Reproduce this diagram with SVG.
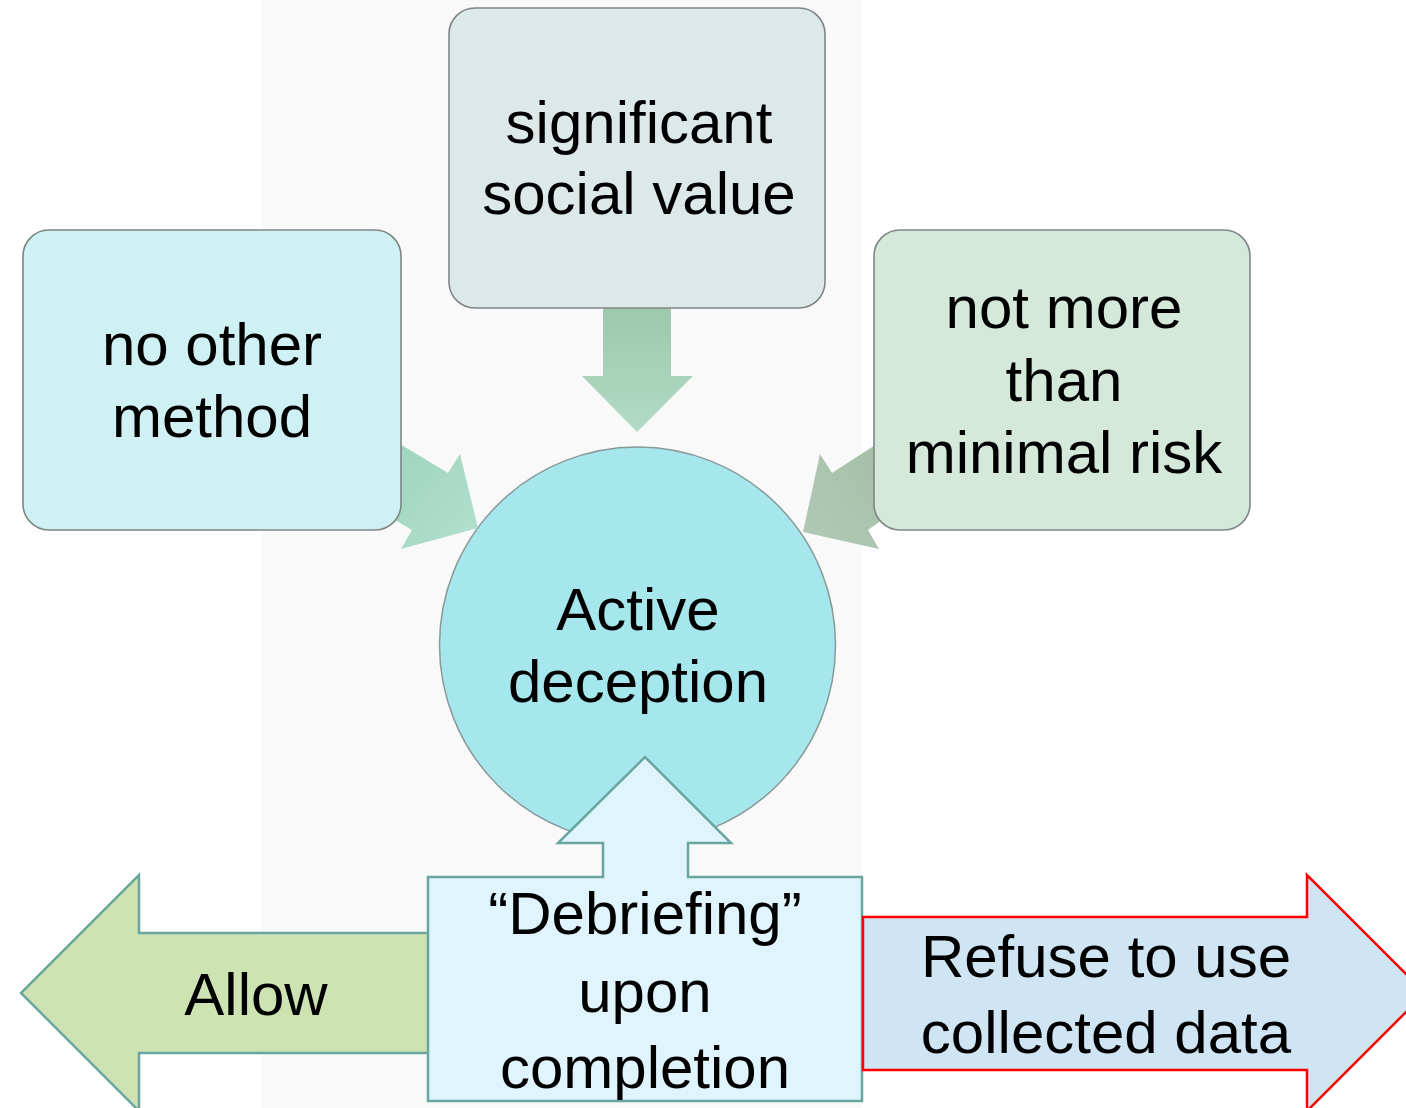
<svg xmlns="http://www.w3.org/2000/svg" width="1406" height="1108" viewBox="0 0 1406 1108">
  <defs>
    <linearGradient id="gDown" x1="0" y1="0" x2="0" y2="1">
      <stop offset="0" stop-color="#9cc7aa"/>
      <stop offset="1" stop-color="#b3dac6"/>
    </linearGradient>
    <linearGradient id="gLeft" x1="0" y1="0" x2="1" y2="1">
      <stop offset="0" stop-color="#9dd4bd"/>
      <stop offset="1" stop-color="#b3e0cf"/>
    </linearGradient>
    <linearGradient id="gRight" x1="1" y1="0" x2="0" y2="1">
      <stop offset="0" stop-color="#a3bea7"/>
      <stop offset="1" stop-color="#b1cab6"/>
    </linearGradient>
  </defs>
  <style>
    .box { stroke: #7f8585; stroke-width: 1.6; }
    .lbl { font-family: "Liberation Sans", Arial, sans-serif; font-size: 60px; fill: #000; text-anchor: middle; }
    .teal { stroke: #6aa6a0; stroke-width: 2.5; }
  </style>

  <rect x="0" y="0" width="1406" height="1108" fill="#ffffff"/>
  <rect x="262" y="0" width="600" height="1108" fill="#f9f9f9"/>

  <!-- central node -->
  <g id="active-deception">
    <circle cx="637.5" cy="645" r="198" fill="#a5e7ec" stroke="#8a9a9a" stroke-width="1.5"/>
    <text class="lbl" x="638" y="630">Active</text>
    <text class="lbl" x="638" y="702">deception</text>
  </g>

  <!-- connectors -->
  <g id="connectors">
    <polygon points="603,300 671,300 671,376 693,376 637,432 582,376 603,376" fill="url(#gDown)"/>
    <polygon points="390,438 448,473 460,454 478,528 401,549 412,530 390,517" fill="url(#gLeft)"/>
    <polygon points="886,438 832,473 820,454 803,532 879,549 868,530 886,517" fill="url(#gRight)"/>
  </g>

  <g id="significant-social-value">
    <rect class="box" x="449" y="8" width="376" height="300" rx="26" fill="#dde9e9"/>
    <text class="lbl" x="639" y="143">significant</text>
    <text class="lbl" x="639" y="214">social value</text>
  </g>

  <g id="no-other-method">
    <rect class="box" x="23" y="230" width="378" height="300" rx="26" fill="#d0f1f3"/>
    <text class="lbl" x="212" y="365">no other</text>
    <text class="lbl" x="212" y="437">method</text>
  </g>

  <g id="minimal-risk">
    <rect class="box" x="874" y="230" width="376" height="300" rx="26" fill="#d4e9da"/>
    <text class="lbl" x="1064" y="328">not more</text>
    <text class="lbl" x="1064" y="401">than</text>
    <text class="lbl" x="1064" y="473">minimal risk</text>
  </g>

  <g id="allow">
    <polygon class="teal" points="440,933 139,933 139,875 21,993 139,1111 139,1053 440,1053" fill="#cde3b1"/>
    <text class="lbl" x="256" y="1015">Allow</text>
  </g>

  <g id="debriefing">
    <polygon class="teal" points="428,877 603,877 603,843 558,843 645,757 731,843 688,843 688,877 862,877 862,1101 428,1101" fill="#dff4fc"/>
    <text class="lbl" x="645" y="934">“Debriefing”</text>
    <text class="lbl" x="645" y="1012">upon</text>
    <text class="lbl" x="645" y="1088">completion</text>
  </g>

  <g id="refuse">
    <polygon points="863,917 1307,917 1307,875 1425,993 1307,1111 1307,1070 863,1070" fill="#d0e5f3" stroke="#ff0000" stroke-width="2.5"/>
    <text class="lbl" x="1106" y="977">Refuse to use</text>
    <text class="lbl" x="1106" y="1053">collected data</text>
  </g>
</svg>
